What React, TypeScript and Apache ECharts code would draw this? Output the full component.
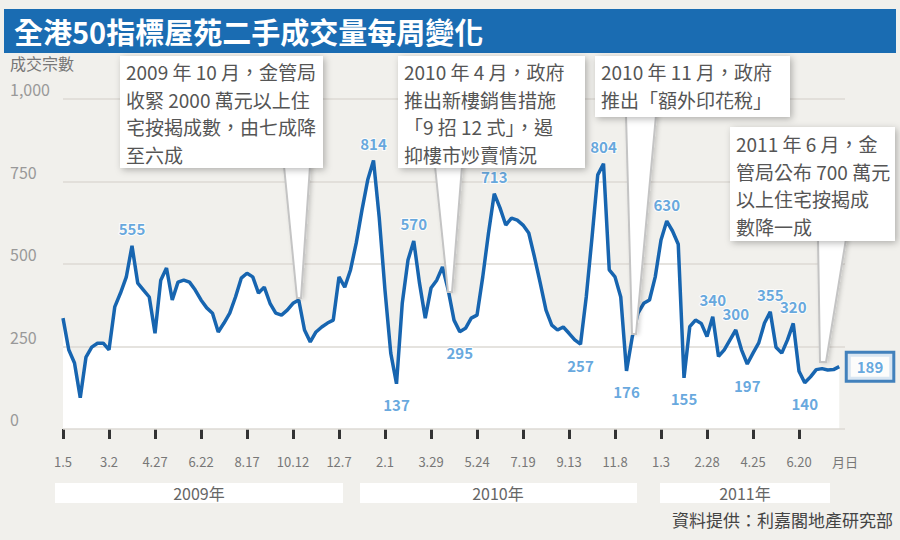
import React, { useEffect, useRef } from "react";
import * as echarts from "echarts";

const FONT = '"Noto Sans CJK TC", "Noto Sans", sans-serif';

const startDate = "2009-01-05";
const unitLabel = "月日";
const yearLabels = ["2009年", "2010年", "2011年"];

// weekly transactions, 50 benchmark estates (week of 2009-01-05 … 2011-08-01)
const weeklyVolume = [
  336, 240, 200, 95, 218, 248, 260, 260, 240, 370,
  412, 460, 555, 442, 421, 400, 290, 451, 488, 391,
  445, 451, 445, 421, 391, 367, 351, 294, 321, 351,
  400, 457, 472, 461, 412, 430, 381, 351, 345, 360,
  381, 391, 300, 264, 294, 309, 321, 330, 461, 430,
  482, 564, 664, 755, 814, 640, 420, 230, 137, 381,
  512, 570, 442, 336, 427, 451, 491, 421, 330, 295,
  305, 336, 345, 461, 594, 713, 670, 618, 639, 633,
  618, 594, 521, 442, 360, 315, 300, 309, 290, 270,
  257, 400, 580, 770, 804, 482, 461, 400, 176, 279,
  351, 381, 391, 461, 573, 630, 600, 560, 155, 310,
  330, 320, 280, 340, 220, 240, 270, 300, 240, 197,
  230, 261, 321, 355, 248, 230, 270, 320, 175, 140,
  158, 180, 183, 179, 180, 189,
];

const peakIdx = [12, 54, 61, 75, 94, 105, 113, 117, 123, 127];
const troughIdx = [58, 69, 90, 98, 108, 119, 129];
const lastIdx = 135;

const callouts = [
  { lines: ["2009 年 10 月，金管局", "收緊 2000 萬元以上住", "宅按揭成數，由七成降", "至六成"] },
  { lines: ["2010 年 4 月，政府", "推出新樓銷售措施", "「9 招 12 式」，遏", "抑樓市炒賣情況"] },
  { lines: ["2010 年 11 月，政府", "推出「額外印花稅」"] },
  { lines: ["2011 年 6 月，金", "管局公布 700 萬元", "以上住宅按揭成", "數降一成"] },
];

const sourceText = "資料提供：利嘉閣地產研究部";
const titleText = "全港50指標屋苑二手成交量每周變化";

function buildCategories(): string[] {
  const out: string[] = [];
  const base = new Date(startDate + "T00:00:00Z").getTime();
  for (let i = 0; i < weeklyVolume.length; i++) {
    const d = new Date(base + i * 7 * 86400000);
    out.push(`${d.getUTCMonth() + 1}.${d.getUTCDate()}`);
  }
  out.push(unitLabel);
  return out;
}

export default function App() {
  const ref = useRef<HTMLDivElement>(null);
  useEffect(() => {
    if (!ref.current) return;
    const chart = echarts.init(ref.current, undefined, { renderer: "svg" });
    const categories = buildCategories();
    const labelColor = "#3f92d6";
    const lineColor = "#1765b0";

    const labelPoints: any[] = [];
    peakIdx.forEach((i) =>
      labelPoints.push({
        value: [i, weeklyVolume[i]],
        label: { show: true, position: "top", distance: 9 },
      })
    );
    troughIdx.forEach((i) =>
      labelPoints.push({
        value: [i, weeklyVolume[i]],
        label: { show: true, position: "bottom", distance: 13 },
      })
    );
    labelPoints.push({
      value: [lastIdx, weeklyVolume[lastIdx]],
      label: {
        show: true,
        position: "right",
        distance: 8,
        backgroundColor: "#ffffff",
        borderColor: lineColor,
        borderWidth: 3,
        padding: [6, 9, 5, 9],
      },
    });

    const boxes = [
      { x: 120, y: 56, w: 203, h: 112, tx: 126, ty: 58, ptr: [[284, 166], [310, 166], [301, 298], [297, 298]] },
      { x: 398, y: 56, w: 187, h: 112, tx: 404, ty: 58, ptr: [[435, 166], [462, 166], [452, 292], [448, 292]] },
      { x: 595, y: 56, w: 195, h: 61, tx: 601, ty: 58, ptr: [[626, 115], [656, 115], [636, 334], [632, 334]] },
      { x: 730, y: 127, w: 165, h: 114, tx: 736, ty: 130, ptr: [[818, 239], [846, 239], [826, 362], [820, 362]] },
    ];

    const graphics: any[] = [
      { type: "rect", shape: { x: 4, y: 9, width: 892, height: 44 }, style: { fill: "#1a6cb2" }, z: 100 },
      {
        type: "text", x: 14, y: 31, z: 101,
        style: { text: titleText, fill: "#ffffff", fontSize: 29, fontWeight: "bold", fontFamily: FONT, verticalAlign: "middle" },
      },
      {
        type: "text", x: 10, y: 63, z: 101,
        style: { text: "成交宗數", fill: "#777", fontSize: 16, fontFamily: FONT, verticalAlign: "middle" },
      },
      // year bands
      { type: "rect", shape: { x: 55, y: 483, width: 288, height: 20 }, style: { fill: "#ffffff" }, z: 100 },
      { type: "rect", shape: { x: 360, y: 483, width: 277, height: 20 }, style: { fill: "#ffffff" }, z: 100 },
      { type: "rect", shape: { x: 660, y: 483, width: 170, height: 20 }, style: { fill: "#ffffff" }, z: 100 },
      { type: "text", x: 199, y: 493, z: 101, style: { text: yearLabels[0], fill: "#666", fontSize: 16, fontFamily: FONT, align: "center", verticalAlign: "middle" } },
      { type: "text", x: 498, y: 493, z: 101, style: { text: yearLabels[1], fill: "#666", fontSize: 16, fontFamily: FONT, align: "center", verticalAlign: "middle" } },
      { type: "text", x: 745, y: 493, z: 101, style: { text: yearLabels[2], fill: "#666", fontSize: 16, fontFamily: FONT, align: "center", verticalAlign: "middle" } },
      {
        type: "text", x: 893, y: 519, z: 101,
        style: { text: sourceText, fill: "#444", fontSize: 17, fontFamily: FONT, align: "right", verticalAlign: "middle" },
      },
    ];

    boxes.forEach((b, k) => {
      graphics.push({
        type: "polygon", z: 110,
        shape: { points: b.ptr },
        style: { fill: "#ffffff", stroke: "#c4c4c4", lineWidth: 2, shadowBlur: 4, shadowColor: "rgba(0,0,0,0.18)", shadowOffsetX: 2 },
      });
      graphics.push({
        type: "rect", z: 111,
        shape: { x: b.x, y: b.y, width: b.w, height: b.h },
        style: { fill: "#ffffff", shadowBlur: 7, shadowOffsetX: 2, shadowOffsetY: 2, shadowColor: "rgba(0,0,0,0.28)" },
      });
      graphics.push({
        type: "text", z: 112, x: b.tx, y: b.ty,
        style: {
          text: callouts[k].lines.join("\n"),
          fill: "#555", fontSize: 19, lineHeight: 27.5, fontFamily: FONT, verticalAlign: "top",
        },
      });
    });

    chart.setOption({
      animation: false,
      backgroundColor: "#f1f0ec",
      textStyle: { fontFamily: FONT },
      grid: { left: 63, right: 55, top: 99, bottom: 111, containLabel: false },
      xAxis: {
        type: "category",
        data: categories,
        boundaryGap: false,
        offset: 8,
        axisLine: { show: false },
        axisTick: {
          show: true,
          interval: (i: number) => i % 8 === 0 && i < weeklyVolume.length,
          length: 10,
          lineStyle: { color: "#333", width: 3 },
        },
        axisLabel: {
          interval: (i: number) => i % 8 === 0 || i === weeklyVolume.length,
          margin: 18,
          color: "#777",
          fontSize: 13,
          fontFamily: FONT,
        },
        splitLine: { show: false },
      },
      yAxis: {
        type: "value",
        min: 0,
        max: 1000,
        interval: 250,
        z: 2,
        axisLine: { show: false },
        axisTick: { show: false },
        axisLabel: {
          align: "left",
          margin: 53,
          verticalAlign: "bottom",
          padding: [0, 0, 2, 0],
          color: "#999",
          fontSize: 16,
          fontFamily: FONT,
          formatter: (v: number) => (v === 1000 ? "1,000" : String(v)),
        },
        splitLine: { lineStyle: { color: "#dcdad5", width: 1.5 } },
      },
      series: [
        {
          type: "line",
          data: weeklyVolume,
          symbol: "none",
          lineStyle: { width: 0, opacity: 0 },
          areaStyle: { color: "#ffffff", opacity: 1 },
          z: 1,
          silent: true,
        },
        {
          type: "line",
          data: weeklyVolume,
          symbol: "none",
          lineStyle: { color: lineColor, width: 3.5 },
          z: 5,
          silent: true,
        },
        {
          type: "scatter",
          data: labelPoints,
          symbolSize: 1,
          itemStyle: { color: "rgba(0,0,0,0)" },
          z: 6,
          silent: true,
          label: {
            show: true,
            color: labelColor,
            fontSize: 15,
            fontWeight: "bold",
            fontFamily: FONT,
            textBorderColor: "#ffffff",
            textBorderWidth: 2,
            formatter: (p: any) => String(p.value[1]),
          },
        },
      ],
      graphic: graphics,
    });
    return () => chart.dispose();
  }, []);
  return <div ref={ref} style={{ position: "absolute", left: 0, top: 0, width: 900, height: 540 }} />;
}
